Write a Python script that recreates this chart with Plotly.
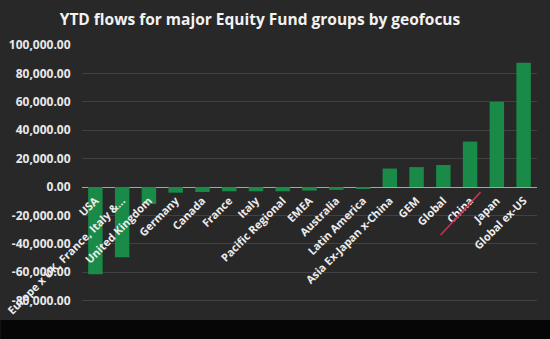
import plotly.graph_objects as go

categories = ["USA", "Europe x UK, France, Italy &...", "United Kingdom", "Germany", "Canada",
              "France", "Italy", "Pacific Regional", "EMEA", "Australia", "Latin America",
              "Asia Ex-Japan x-China", "GEM", "Global", "China", "Japan", "Global ex-US"]
flows = [-61500, -49500, -12000, -4000, -3500, -3000, -3000, -3000, -2500, -2000, -1000,
         13000, 14000, 15500, 32000, 60000, 87500]
y_ticks = [100000, 80000, 60000, 40000, 20000, 0, -20000, -40000, -60000, -80000, -100000]
y_tick_labels = [f"{v:,.2f}" for v in y_ticks]

W, H = 550, 339
ml, mr, mt, mb = 81.6, 13.4, 45, 10
pw, ph = W - ml - mr, H - mt - mb

fig = go.Figure(go.Bar(
    x=categories, y=flows,
    marker=dict(color="#1a8a48", line=dict(width=0)),
    width=0.54,
))

fig.update_layout(
    width=W, height=H,
    margin=dict(l=ml, r=mr, t=mt, b=mb, pad=0, autoexpand=False),
    paper_bgcolor="#292828",
    plot_bgcolor="#292828",
    showlegend=False,
    title=dict(text="YTD flows for major Equity Fund groups by geofocus",
               x=260 / W, xanchor="center", y=1 - 20 / H, yanchor="middle",
               font=dict(family="Open Sans", size=15.5, color="#f2f2f2", weight="bold")),
    font=dict(family="Open Sans", color="#e8e8e8"),
    xaxis=dict(
        anchor="free", position=0.5, tickangle=-45, automargin=False,
        showgrid=False, showline=False, zeroline=False,
        ticks="outside", ticklen=2, tickcolor="rgba(0,0,0,0)",
        tickfont=dict(family="Open Sans", size=11, color="#ececec", weight="bold"),
    ),
    yaxis=dict(
        range=[-100000, 100000], tickvals=y_ticks, ticktext=y_tick_labels,
        automargin=False,
        showgrid=True, gridcolor="#424141", gridwidth=1,
        zeroline=True, zerolinecolor="#a5a5a5", zerolinewidth=1,
        ticks="outside", ticklen=8, tickcolor="rgba(0,0,0,0)",
        tickfont=dict(family="Open Sans", size=12, color="#e8e8e8", weight="bold"),
        showline=False,
    ),
    shapes=[
        # red hand-drawn strike over "China"
        dict(type="path", xref="paper", yref="paper",
             path="M 0.788 0.331 Q 0.828 0.40 0.876 0.482",
             line=dict(color="#c8324e", width=1.6), layer="above"),
        # black band at the bottom of the screenshot
        dict(type="rect", xref="paper", yref="paper",
             x0=-ml / pw, x1=1 + mr / pw,
             y0=-mb / ph, y1=(19 - mb) / ph,
             fillcolor="#070607", line=dict(width=0), layer="above"),
    ],
)

fig.write_html("out.html")
